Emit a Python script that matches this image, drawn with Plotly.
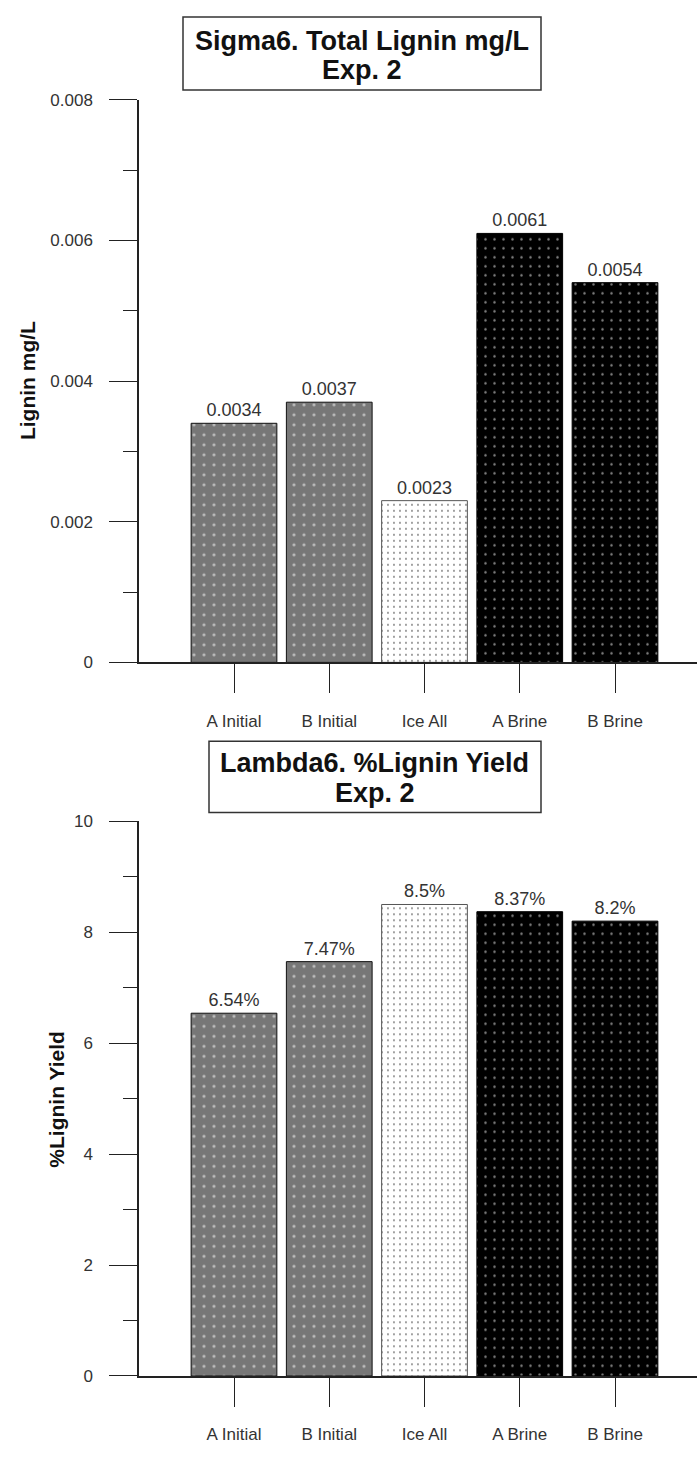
import plotly.graph_objects as go

categories = ["A Initial", "B Initial", "Ice All", "A Brine", "B Brine"]
lignin_mgL = [0.0034, 0.0037, 0.0023, 0.0061, 0.0054]
lignin_mgL_text = ["0.0034", "0.0037", "0.0023", "0.0061", "0.0054"]
lignin_yield = [6.54, 7.47, 8.5, 8.37, 8.2]
lignin_yield_text = ["6.54%", "7.47%", "8.5%", "8.37%", "8.2%"]
top_ticks = [0, 0.002, 0.004, 0.006, 0.008]
top_ticklabels = ["0", "0.002", "0.004", "0.006", "0.008"]
bottom_ticks = [0, 2, 4, 6, 8, 10]
bottom_ticklabels = ["0", "2", "4", "6", "8", "10"]

W, H = 697, 1460
FONT = "Liberation Sans, Arial, sans-serif"
AX = "#222222"
TXT = "#333333"

# pattern styles per bar
bg = ["#777777", "#777777", "#ffffff", "#000000", "#000000"]
fg = ["#ffffff", "#ffffff", "#000000", "#ffffff", "#ffffff"]
psize = [10, 10, 6, 9, 9]
psolid = [0.08, 0.08, 0.08, 0.06, 0.06]
lines = ["#111111", "#111111", "#555555", "#000000", "#000000"]


def py(px):
    return (H - px) / H


y_axis_x = 139
c0, step = 234, 95.25
xr = [(y_axis_x - c0) / step, (W - c0) / step]

fig = go.Figure()

for vals, texts, xa, ya in [(lignin_mgL, lignin_mgL_text, "x", "y"),
                            (lignin_yield, lignin_yield_text, "x2", "y2")]:
    for i, cat in enumerate(categories):
        fig.add_trace(go.Bar(
            x=[cat], y=[vals[i]], text=[texts[i]], textposition="outside",
            textfont=dict(family=FONT, size=18, color=TXT), cliponaxis=False,
            width=0.9,
            marker=dict(color=bg[i], line=dict(color=lines[i], width=1),
                        pattern=dict(shape=".", fgcolor=fg[i], size=psize[i],
                                     solidity=psolid[i], fillmode="overlay")),
            xaxis=xa, yaxis=ya, showlegend=False, hoverinfo="skip"))

xcommon = dict(type="category", categoryorder="array", categoryarray=categories,
               range=xr, domain=[y_axis_x / W, 1.0],
               showline=True, linecolor=AX, linewidth=1.5,
               ticks="outside", ticklen=29, tickwidth=1.2, tickcolor=AX,
               ticklabelstandoff=13,
               tickfont=dict(family=FONT, size=17, color=TXT),
               showgrid=False, zeroline=False, fixedrange=True)

ycommon = dict(showline=True, linecolor=AX, linewidth=1.5,
               ticks="outside", ticklen=28, tickwidth=1.2, tickcolor=AX,
               ticklabelstandoff=13,
               tickfont=dict(family=FONT, size=17, color=TXT),
               showgrid=False, zeroline=False, fixedrange=True)

shapes = [
    dict(type="rect", xref="paper", yref="paper", x0=183 / W, x1=541 / W,
         y0=py(82), y1=py(8), line=dict(color="#333333", width=1.5), fillcolor="white", layer="above"),
    dict(type="rect", xref="paper", yref="paper", x0=209 / W, x1=541 / W,
         y0=py(814), y1=py(742), line=dict(color="#333333", width=1.5), fillcolor="white", layer="above"),
]


def title_line(text, xc, yc, size=27):
    return dict(text="<b>" + text + "</b>", xref="paper", yref="paper", x=xc / W, y=py(yc),
                xanchor="center", yanchor="middle", showarrow=False,
                font=dict(family=FONT, size=size, color="#111111"))


fig.update_layout(
    width=W, height=H, margin=dict(l=0, r=0, t=0, b=0),
    paper_bgcolor="white", plot_bgcolor="white", barmode="overlay",
    xaxis=dict(xcommon, anchor="y"),
    xaxis2=dict(xcommon, anchor="y2"),
    yaxis=dict(ycommon, anchor="x", domain=[py(662), py(92)], range=[0, 0.008],
               tickvals=top_ticks, ticktext=top_ticklabels,
               minor=dict(dtick=0.001, ticks="outside", ticklen=14, tickwidth=1.2, tickcolor=AX)),
    yaxis2=dict(ycommon, anchor="x2", domain=[py(1385), py(823)], range=[0, 10],
                tickvals=bottom_ticks, ticktext=bottom_ticklabels,
                minor=dict(dtick=1, ticks="outside", ticklen=14, tickwidth=1.2, tickcolor=AX)),
    shapes=shapes,
    annotations=[
        title_line("Sigma6. Total Lignin mg/L", 362, 32),
        title_line("Exp. 2", 362, 62),
        title_line("Lambda6. %Lignin Yield", 375, 764),
        title_line("Exp. 2", 375, 794),
        dict(text="<b>Lignin mg/L</b>", xref="paper", yref="paper",
             x=27 / W, y=py(377), textangle=-90, showarrow=False,
             xanchor="center", yanchor="middle",
             font=dict(family=FONT, size=21, color="#111111")),
        dict(text="<b>%Lignin Yield</b>", xref="paper", yref="paper",
             x=57 / W, y=py(1104), textangle=-90, showarrow=False,
             xanchor="center", yanchor="middle",
             font=dict(family=FONT, size=21, color="#111111")),
    ],
)

fig.write_html("out.html")
